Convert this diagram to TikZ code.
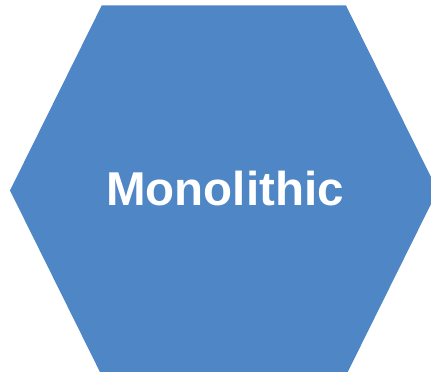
\documentclass[tikz,border=0pt]{standalone}
\usepackage{fontspec}
\setmainfont{Liberation Sans}
\usepackage{xcolor}
\usepackage{tikz}
\definecolor{HexBlue}{HTML}{4F86C6}

\begin{document}
\begin{tikzpicture}[x=1pt,y=1pt,
    hexlabel/.style={font=\fontsize{47.5}{52}\selectfont\bfseries, text=white}]
  \useasboundingbox (0,0) rectangle (431,372);
  \clip (0,0) rectangle (431,372);

  % hexagon, flat top and bottom, cut at the right and bottom edges
  \fill[HexBlue] (10,181.5) -- (101.7,366.5) -- (346,366.5) -- (437.7,181.5)
    -- (346,-3.5) -- (101.7,-3.5) -- cycle;

  \node[hexlabel] (monolabel) at (225,183) {Monolithic};
\end{tikzpicture}
\end{document}
